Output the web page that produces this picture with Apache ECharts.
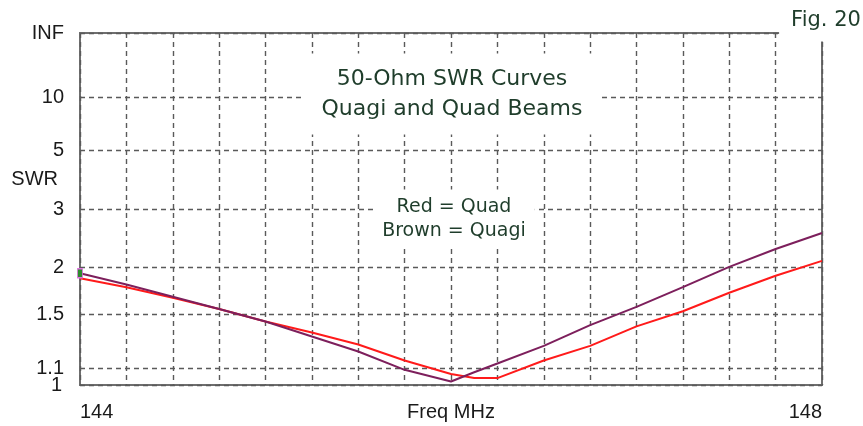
<!DOCTYPE html>
<html>
<head>
<meta charset="utf-8">
<script src="https://cdn.jsdelivr.net/npm/echarts@6/dist/echarts.min.js"></script>
<style>
  html, body { margin: 0; padding: 0; background: #fff; }
  #chart { width: 863px; height: 426px; }
</style>
</head>
<body>
<div id="chart"></div>
<script>
// Frequencies (MHz) where the SWR was sampled
const freqs = [144, 144.25, 144.5, 144.75, 145, 145.25, 145.5, 145.75, 146, 146.125, 146.25, 146.5, 146.75, 147, 147.25, 147.5, 147.75, 148];
// 50-ohm SWR of the quagi (brown) and quad (red) beams
const quagiSwr = [1.93, 1.80, 1.67, 1.55, 1.44, 1.32, 1.21, 1.09, 1.02, 1.075, 1.13, 1.25, 1.41, 1.57, 1.77, 2.01, 2.26, 2.52];
const quadSwr  = [1.87, 1.77, 1.66, 1.55, 1.44, 1.35, 1.26, 1.15, 1.065, 1.04, 1.04, 1.15, 1.25, 1.40, 1.53, 1.71, 1.90, 2.09];
// SWR scale marks
const swrTicks = [1, 1.1, 1.5, 2, 3, 5, 10, Infinity];
const swrTickLabels = ['1', '1.1', '1.5', '2', '3', '5', '10', 'INF'];
// Frequency labels
const freqTickLabels = [144, 148];

// The SWR axis is linear in reflection coefficient: rho = (SWR - 1) / (SWR + 1)
function toRho(s) { return s === Infinity ? 1 : (s - 1) / (s + 1); }
const tickRho = swrTicks.map(toRho);
function swrLabel(v) {
  const i = tickRho.findIndex(r => Math.abs(r - v) < 1e-6);
  return i >= 0 ? swrTickLabels[i] : '';
}

const labelFont = { color: '#1a1a1a', fontFamily: 'Liberation Sans, Arial, sans-serif', fontSize: 20 };
const noteColor = '#1f3d2b';
const gridLine = { color: '#5a5a5a', width: 1.4, type: [5, 4] };

const chart = echarts.init(document.getElementById('chart'), null, { renderer: 'canvas' });
chart.setOption({
  animation: false,
  backgroundColor: '#fff',
  grid: {
    left: 80, top: 33, right: 41, bottom: 41,
    outerBoundsMode: 'none', containLabel: false,
    show: true, borderColor: '#6e6e6e', borderWidth: 2, backgroundColor: 'transparent'
  },
  xAxis: {
    type: 'value', min: 144, max: 148, interval: 0.25,
    axisLine: { show: false },
    axisTick: { show: false },
    axisLabel: Object.assign({
      customValues: freqTickLabels, margin: 17, hideOverlap: false,
      alignMinLabel: 'left', alignMaxLabel: 'right',
      formatter: v => String(v)
    }, labelFont),
    splitLine: { show: true, lineStyle: gridLine },
    name: 'Freq MHz', nameLocation: 'middle', nameGap: 17, nameMoveOverlap: false,
    nameTextStyle: Object.assign({ verticalAlign: 'top' }, labelFont)
  },
  yAxis: [
    {
      // SWR scale with its grid lines; labels from 1.1 up to INF
      type: 'value', min: 0, max: 1, position: 'left',
      axisLine: { show: false },
      axisTick: { show: false, customValues: tickRho },
      axisLabel: Object.assign({
        customValues: tickRho.slice(1), margin: 16, hideOverlap: false,
        formatter: swrLabel
      }, labelFont),
      splitLine: { show: true, lineStyle: gridLine }
    },
    {
      // the SWR = 1 label at the foot of the scale, kept on its own axis
      type: 'value', min: 0, max: 1, position: 'left',
      axisLine: { show: false },
      axisTick: { show: false },
      axisLabel: Object.assign({
        customValues: tickRho.slice(0, 1), margin: 18, hideOverlap: false,
        showMinLabel: true, formatter: swrLabel
      }, labelFont),
      splitLine: { show: false }
    }
  ],
  series: [
    {
      name: 'Quad', type: 'line', symbol: 'none', yAxisIndex: 0,
      data: freqs.map((f, i) => [f, toRho(quadSwr[i])]),
      lineStyle: { color: '#ff1a1a', width: 2 }, z: 3
    },
    {
      name: 'Quagi', type: 'line', symbol: 'none', yAxisIndex: 0,
      data: freqs.map((f, i) => [f, toRho(quagiSwr[i])]),
      lineStyle: { color: '#7d1f5c', width: 2 }, z: 4,
      markPoint: {
        symbol: 'rect', symbolSize: [5, 9], silent: true,
        itemStyle: { color: '#2e8b2e', borderColor: '#e070e0', borderWidth: 1 },
        label: { show: false },
        data: [{ coord: [freqs[0], toRho(quagiSwr[0])] }]
      }
    }
  ],
  graphic: [
    {
      type: 'text', z: 20, x: 452, y: 94,
      style: {
        text: '50-Ohm SWR Curves\nQuagi and Quad Beams',
        align: 'center', verticalAlign: 'middle', lineHeight: 30,
        font: '22px "DejaVu Sans", sans-serif', fill: noteColor,
        backgroundColor: '#fff', padding: [17, 18, 4, 18]
      }
    },
    {
      type: 'text', z: 20, x: 454, y: 219,
      style: {
        text: 'Red = Quad\nBrown = Quagi',
        align: 'center', verticalAlign: 'middle', lineHeight: 24,
        font: '19px "DejaVu Sans", sans-serif', fill: noteColor,
        backgroundColor: '#fff', padding: [4, 9, 7, 9]
      }
    },
    {
      type: 'text', z: 20, x: 823, y: 21,
      style: {
        text: 'Fig. 20',
        align: 'center', verticalAlign: 'middle', lineHeight: 24,
        font: '21px "DejaVu Sans", sans-serif', fill: noteColor,
        backgroundColor: '#fff', padding: [9, 6, 8, 12]
      }
    },
    {
      type: 'text', z: 20, x: 58, y: 179,
      style: {
        text: 'SWR', align: 'right', verticalAlign: 'middle',
        font: '20px "Liberation Sans", Arial, sans-serif', fill: '#1a1a1a'
      }
    }
  ]
});
</script>
</body>
</html>
